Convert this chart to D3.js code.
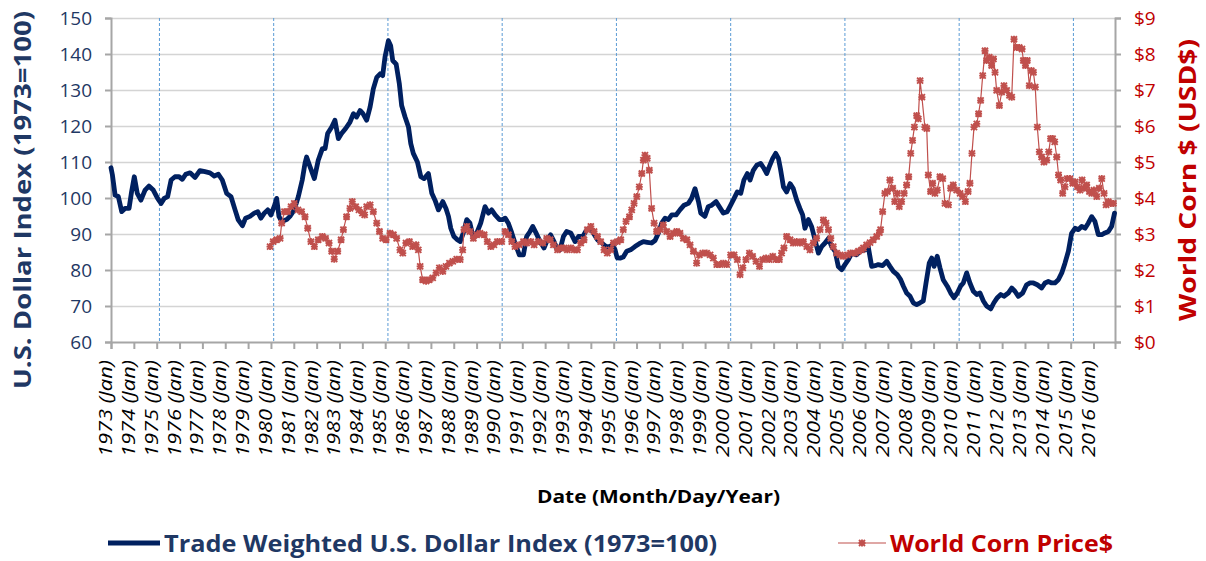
<!DOCTYPE html>
<html>
<head>
  <meta charset="utf-8">
  <title></title>
  <style>
    body { margin: 0; background: #fff; }
    svg { display: block; }
    text { font-family: "Open Sans", "DejaVu Sans", sans-serif; }
    .grid line { stroke: #d4d4d4; stroke-width: 1.5px; }
    .grid path { display: none; }
    .axis path, .axis line { stroke: #a6a6a6; stroke-width: 2px; }
  </style>
</head>
<body>
<svg width="1206" height="561"></svg>
<script src="https://cdnjs.cloudflare.com/ajax/libs/d3/7.8.5/d3.min.js"></script>
<script>

// tick labels
var years = d3.range(1973, 2017);
var leftTicks = d3.range(60, 151, 10);
var rightTicks = d3.range(0, 10, 1);
var markerYears = [1975, 1980, 1985, 1990, 1995, 2000, 2005, 2010, 2015];

// [decimal year, index]
var dollarIndex = [
  [1973.0, 108.4], [1973.06, 106.5], [1973.18, 100.8], [1973.32, 100.4], [1973.47, 96.2], [1973.61, 97.1],
  [1973.79, 97.1], [1973.90, 101.7], [1974.02, 105.9], [1974.15, 101.3], [1974.31, 99.4], [1974.49, 102.2],
  [1974.66, 103.3], [1974.85, 102.2], [1975.04, 99.9], [1975.19, 98.5], [1975.33, 99.9], [1975.48, 100.4],
  [1975.63, 105.0], [1975.80, 105.9], [1975.98, 105.9], [1976.12, 105.2], [1976.27, 106.6], [1976.46, 107.0],
  [1976.68, 105.7], [1976.89, 107.6], [1977.11, 107.3], [1977.33, 107.0], [1977.52, 106.1], [1977.70, 106.6],
  [1977.87, 105.0], [1978.06, 101.3], [1978.25, 100.4], [1978.43, 96.7], [1978.57, 93.9], [1978.75, 92.3],
  [1978.89, 94.4], [1979.08, 94.9], [1979.27, 95.8], [1979.42, 96.2], [1979.56, 94.4], [1979.71, 95.8],
  [1979.86, 96.7], [1980.00, 95.3], [1980.15, 97.8], [1980.25, 99.9], [1980.35, 94.9], [1980.47, 93.5],
  [1980.69, 94.0], [1980.83, 94.9], [1981.02, 96.7], [1981.20, 100.4], [1981.37, 105.0], [1981.49, 109.6],
  [1981.56, 111.4], [1981.71, 108.7], [1981.90, 105.4], [1982.07, 110.5], [1982.25, 113.7], [1982.37, 113.7],
  [1982.48, 117.9], [1982.66, 119.7], [1982.80, 121.6], [1982.95, 116.5], [1983.09, 117.9], [1983.27, 119.3],
  [1983.46, 121.1], [1983.61, 123.4], [1983.75, 122.5], [1983.90, 124.3], [1984.02, 123.5], [1984.19, 121.6],
  [1984.34, 125.3], [1984.48, 130.3], [1984.63, 133.5], [1984.78, 134.5], [1984.89, 134.0], [1984.99, 139.1],
  [1985.14, 143.7], [1985.24, 142.3], [1985.33, 138.2], [1985.48, 137.2], [1985.62, 131.7], [1985.72, 125.7],
  [1985.87, 122.5], [1986.02, 119.7], [1986.12, 115.1], [1986.23, 112.4], [1986.41, 110.0], [1986.56, 105.9],
  [1986.70, 105.4], [1986.89, 106.8], [1987.04, 101.3], [1987.18, 99.4], [1987.33, 96.7], [1987.52, 99.0],
  [1987.66, 97.1], [1987.77, 94.9], [1987.87, 91.6], [1988.01, 89.3], [1988.16, 88.4], [1988.28, 87.9],
  [1988.42, 90.3], [1988.57, 94.0], [1988.71, 93.0], [1988.86, 88.8], [1989.01, 90.3], [1989.18, 93.0],
  [1989.37, 97.6], [1989.52, 95.8], [1989.66, 96.7], [1989.81, 95.3], [1990.00, 94.0], [1990.14, 94.0],
  [1990.25, 94.4], [1990.39, 93.0], [1990.54, 90.3], [1990.68, 87.5], [1990.87, 84.2], [1991.05, 84.2],
  [1991.19, 89.3], [1991.34, 90.7], [1991.46, 92.1], [1991.60, 90.3], [1991.78, 87.9], [1991.95, 86.1],
  [1992.10, 88.4], [1992.24, 89.8], [1992.39, 87.9], [1992.54, 85.6], [1992.65, 85.6], [1992.80, 89.3],
  [1992.94, 90.7], [1993.12, 90.3], [1993.31, 87.9], [1993.46, 89.3], [1993.65, 89.3], [1993.82, 91.2],
  [1993.97, 91.6], [1994.11, 90.3], [1994.29, 88.4], [1994.48, 87.5], [1994.67, 86.5], [1994.81, 86.5],
  [1994.96, 87.0], [1995.06, 85.6], [1995.15, 83.4], [1995.28, 83.3], [1995.42, 83.6], [1995.57, 85.2],
  [1995.74, 85.6], [1995.93, 86.5], [1996.12, 87.3], [1996.30, 87.9], [1996.47, 87.7], [1996.66, 87.5],
  [1996.81, 88.2], [1996.96, 90.3], [1997.10, 93.0], [1997.25, 94.4], [1997.39, 94.0], [1997.54, 95.3],
  [1997.73, 95.3], [1997.90, 96.7], [1998.08, 98.0], [1998.27, 98.5], [1998.41, 99.9], [1998.56, 102.6],
  [1998.71, 99.0], [1998.81, 95.8], [1998.99, 94.9], [1999.14, 97.6], [1999.29, 98.0], [1999.48, 99.0],
  [1999.62, 97.6], [1999.80, 95.8], [1999.97, 96.2], [2000.12, 98.0], [2000.27, 99.9], [2000.41, 101.7],
  [2000.56, 101.3], [2000.70, 105.0], [2000.85, 106.8], [2000.97, 105.0], [2001.11, 107.7], [2001.26, 109.1],
  [2001.43, 109.6], [2001.58, 108.2], [2001.70, 106.8], [2001.81, 108.7], [2001.96, 111.0], [2002.09, 112.4],
  [2002.21, 111.0], [2002.31, 107.7], [2002.43, 103.1], [2002.57, 101.7], [2002.72, 104.0], [2002.86, 102.6],
  [2003.01, 99.4], [2003.15, 97.1], [2003.27, 95.3], [2003.37, 91.6], [2003.52, 94.0], [2003.66, 92.1],
  [2003.81, 88.4], [2003.96, 84.7], [2004.10, 86.5], [2004.25, 87.5], [2004.40, 88.8], [2004.54, 86.5],
  [2004.69, 85.2], [2004.83, 81.0], [2004.98, 80.1], [2005.12, 81.5], [2005.27, 82.9], [2005.42, 84.7],
  [2005.63, 84.2], [2005.78, 85.2], [2006.00, 85.6], [2006.14, 86.5], [2006.29, 81.0], [2006.44, 81.2],
  [2006.58, 81.5], [2006.77, 81.2], [2006.95, 82.4], [2007.09, 81.0], [2007.24, 79.6], [2007.41, 78.7],
  [2007.56, 77.3], [2007.68, 75.5], [2007.82, 73.6], [2007.97, 72.7], [2008.11, 70.9], [2008.26, 70.4],
  [2008.41, 70.9], [2008.55, 71.4], [2008.67, 76.4], [2008.81, 81.9], [2008.92, 83.3], [2009.02, 81.0],
  [2009.16, 83.8], [2009.28, 80.6], [2009.42, 77.3], [2009.60, 75.5], [2009.75, 73.6], [2009.89, 72.3],
  [2010.04, 73.6], [2010.18, 75.5], [2010.30, 76.4], [2010.45, 79.2], [2010.59, 76.4], [2010.74, 74.1],
  [2010.89, 73.2], [2011.03, 73.6], [2011.18, 71.4], [2011.32, 70.0], [2011.50, 69.2], [2011.64, 70.9],
  [2011.79, 72.3], [2011.94, 73.2], [2012.08, 72.7], [2012.27, 73.6], [2012.42, 75.0], [2012.56, 74.1],
  [2012.71, 72.7], [2012.90, 73.6], [2013.07, 75.9], [2013.22, 76.4], [2013.37, 76.4], [2013.54, 75.9],
  [2013.73, 75.0], [2013.88, 76.4], [2014.02, 76.8], [2014.17, 76.4], [2014.31, 76.4], [2014.46, 77.3],
  [2014.61, 79.2], [2014.75, 81.9], [2014.90, 85.2], [2015.04, 90.2], [2015.19, 91.6], [2015.34, 91.2],
  [2015.48, 92.1], [2015.63, 91.6], [2015.77, 93.0], [2015.92, 94.8], [2016.06, 93.5], [2016.21, 89.8],
  [2016.36, 89.8], [2016.50, 90.3], [2016.65, 90.7], [2016.79, 92.1], [2016.92, 95.8]
];

// [decimal year, USD]
var cornPrice = [
  [1979.96, 2.65], [1980.10, 2.79], [1980.25, 2.84], [1980.40, 2.88], [1980.47, 3.30], [1980.59, 3.62],
  [1980.73, 3.62], [1980.88, 3.76], [1981.02, 3.85], [1981.18, 3.67], [1981.34, 3.62], [1981.49, 3.48],
  [1981.61, 3.16], [1981.75, 2.79], [1981.90, 2.65], [1982.07, 2.84], [1982.25, 2.93], [1982.39, 2.88],
  [1982.54, 2.75], [1982.66, 2.52], [1982.77, 2.30], [1982.92, 2.52], [1983.07, 2.84], [1983.17, 3.12],
  [1983.31, 3.48], [1983.46, 3.71], [1983.56, 3.90], [1983.71, 3.76], [1983.85, 3.67], [1984.00, 3.58],
  [1984.10, 3.53], [1984.19, 3.76], [1984.34, 3.81], [1984.48, 3.62], [1984.63, 3.30], [1984.75, 3.07],
  [1984.89, 2.88], [1985.04, 2.84], [1985.21, 3.02], [1985.36, 2.98], [1985.50, 2.88], [1985.65, 2.56],
  [1985.77, 2.47], [1985.91, 2.75], [1986.06, 2.79], [1986.20, 2.65], [1986.35, 2.70], [1986.45, 2.56],
  [1986.53, 2.10], [1986.64, 1.73], [1986.79, 1.69], [1986.93, 1.73], [1987.08, 1.78], [1987.23, 1.92],
  [1987.37, 2.06], [1987.52, 1.96], [1987.66, 2.10], [1987.81, 2.19], [1987.96, 2.24], [1988.13, 2.30],
  [1988.28, 2.29], [1988.39, 2.56], [1988.45, 3.12], [1988.57, 3.21], [1988.71, 3.07], [1988.86, 2.88],
  [1989.01, 2.98], [1989.15, 3.02], [1989.33, 2.98], [1989.47, 2.79], [1989.62, 2.65], [1989.76, 2.70],
  [1989.91, 2.79], [1990.10, 2.79], [1990.25, 3.07], [1990.39, 2.98], [1990.54, 2.79], [1990.68, 2.65],
  [1990.87, 2.70], [1991.05, 2.79], [1991.19, 2.75], [1991.37, 2.79], [1991.52, 2.70], [1991.70, 2.79],
  [1991.90, 2.75], [1992.07, 2.88], [1992.22, 2.84], [1992.36, 2.70], [1992.54, 2.56], [1992.68, 2.61],
  [1992.83, 2.61], [1992.97, 2.56], [1993.12, 2.61], [1993.27, 2.56], [1993.41, 2.56], [1993.56, 2.75],
  [1993.70, 2.84], [1993.85, 3.12], [1994.00, 3.21], [1994.14, 3.07], [1994.29, 2.93], [1994.43, 2.79],
  [1994.58, 2.56], [1994.72, 2.47], [1994.87, 2.56], [1994.99, 2.75], [1995.16, 2.79], [1995.31, 2.84],
  [1995.42, 3.12], [1995.54, 3.35], [1995.69, 3.48], [1995.79, 3.67], [1995.89, 3.85], [1996.01, 4.04],
  [1996.12, 4.31], [1996.23, 4.68], [1996.30, 5.05], [1996.37, 5.19], [1996.47, 5.10], [1996.56, 4.77],
  [1996.66, 3.71], [1996.77, 3.30], [1996.88, 3.07], [1997.03, 3.12], [1997.17, 3.25], [1997.32, 3.07],
  [1997.47, 2.93], [1997.61, 3.02], [1997.76, 3.07], [1997.90, 3.02], [1998.05, 2.88], [1998.20, 2.84],
  [1998.34, 2.70], [1998.49, 2.52], [1998.63, 2.19], [1998.75, 2.42], [1998.90, 2.47], [1999.07, 2.47],
  [1999.22, 2.42], [1999.36, 2.33], [1999.51, 2.15], [1999.65, 2.15], [1999.80, 2.19], [1999.95, 2.15],
  [2000.12, 2.42], [2000.27, 2.42], [2000.41, 2.29], [2000.53, 1.87], [2000.65, 2.06], [2000.79, 2.29],
  [2000.94, 2.47], [2001.08, 2.38], [2001.23, 2.24], [2001.38, 2.10], [2001.52, 2.29], [2001.67, 2.33],
  [2001.81, 2.29], [2001.96, 2.38], [2002.10, 2.29], [2002.25, 2.29], [2002.35, 2.47], [2002.45, 2.61],
  [2002.57, 2.93], [2002.72, 2.84], [2002.86, 2.75], [2003.01, 2.79], [2003.15, 2.75], [2003.30, 2.79],
  [2003.45, 2.65], [2003.59, 2.56], [2003.74, 2.75], [2003.88, 2.88], [2004.03, 3.12], [2004.18, 3.39],
  [2004.29, 3.30], [2004.40, 3.12], [2004.50, 2.88], [2004.61, 2.65], [2004.76, 2.47], [2004.91, 2.42],
  [2005.05, 2.38], [2005.23, 2.42], [2005.37, 2.47], [2005.56, 2.47], [2005.71, 2.52], [2005.85, 2.56],
  [2005.93, 2.61], [2006.07, 2.70], [2006.22, 2.76], [2006.36, 2.84], [2006.51, 2.93], [2006.63, 3.04],
  [2006.68, 3.12], [2006.77, 3.62], [2006.87, 4.13], [2006.98, 4.18], [2007.09, 4.50], [2007.21, 4.27],
  [2007.30, 3.90], [2007.41, 4.13], [2007.50, 3.76], [2007.60, 3.90], [2007.71, 4.13], [2007.82, 4.36],
  [2007.91, 4.59], [2008.00, 5.24], [2008.08, 5.60], [2008.16, 5.97], [2008.26, 6.29], [2008.33, 6.20],
  [2008.41, 7.26], [2008.49, 6.80], [2008.62, 5.97], [2008.70, 5.93], [2008.77, 4.64], [2008.87, 4.18],
  [2008.96, 4.41], [2009.06, 4.13], [2009.16, 4.22], [2009.28, 4.59], [2009.40, 4.54], [2009.50, 3.85],
  [2009.65, 3.81], [2009.75, 4.27], [2009.86, 4.36], [2010.01, 4.22], [2010.16, 4.13], [2010.27, 4.04],
  [2010.39, 3.90], [2010.51, 4.18], [2010.59, 4.41], [2010.68, 5.24], [2010.77, 5.97], [2010.89, 6.06],
  [2010.97, 6.34], [2011.06, 6.71], [2011.15, 7.40], [2011.25, 8.09], [2011.32, 7.82], [2011.44, 7.91],
  [2011.54, 7.68], [2011.62, 7.86], [2011.69, 7.49], [2011.76, 6.99], [2011.88, 6.57], [2011.98, 6.94],
  [2012.08, 7.12], [2012.20, 6.99], [2012.32, 6.85], [2012.42, 6.80], [2012.52, 8.41], [2012.64, 8.18],
  [2012.75, 8.18], [2012.87, 8.14], [2012.93, 7.82], [2013.02, 7.68], [2013.10, 7.82], [2013.19, 7.12],
  [2013.28, 7.54], [2013.37, 7.49], [2013.45, 7.08], [2013.54, 5.97], [2013.63, 5.28], [2013.73, 5.14],
  [2013.83, 5.00], [2013.95, 5.05], [2014.04, 5.28], [2014.12, 5.65], [2014.21, 5.65], [2014.30, 5.56],
  [2014.39, 5.14], [2014.47, 4.64], [2014.56, 4.50], [2014.65, 4.13], [2014.75, 4.31], [2014.85, 4.54],
  [2014.97, 4.54], [2015.09, 4.41], [2015.19, 4.45], [2015.29, 4.31], [2015.41, 4.22], [2015.50, 4.50],
  [2015.58, 4.27], [2015.70, 4.36], [2015.82, 4.18], [2015.92, 4.13], [2016.02, 4.22], [2016.14, 4.04],
  [2016.25, 4.27], [2016.36, 4.54], [2016.46, 4.13], [2016.55, 3.81], [2016.65, 3.90], [2016.75, 3.85],
  [2016.87, 3.85]
];

var svg = d3.select("svg");
var navy = "#002060", titleNavy = "#1f3864", red = "#c0504d", darkRed = "#c00000";

var margin = {top: 18, right: 91, bottom: 219, left: 111};
var width = 1206 - margin.left - margin.right,
    height = 561 - margin.top - margin.bottom;

var x = d3.scaleLinear().domain([1973, 2016.94]).range([0, width]);
var y = d3.scaleLinear().domain([60, 150]).range([height, 0]);
var y2 = d3.scaleLinear().domain([0, 9]).range([height, 0]);

var g = svg.append("g").attr("transform", "translate(" + margin.left + "," + margin.top + ")");

// horizontal grid
g.append("g").attr("class", "grid")
  .call(d3.axisLeft(y).tickValues(leftTicks.slice(1)).tickSize(-width).tickFormat(""));

// dashed year markers
g.append("g").selectAll("line")
  .data(markerYears)
  .enter().append("line")
  .attr("x1", function(d) { return x(d + 0.12); })
  .attr("x2", function(d) { return x(d + 0.12); })
  .attr("y1", 0).attr("y2", height)
  .attr("stroke", "#5b9bd5")
  .attr("stroke-width", 1)
  .attr("stroke-dasharray", "3,2");

// axes
var left = g.append("g").attr("class", "axis")
  .call(d3.axisLeft(y).tickValues(leftTicks).tickSize(6).tickPadding(13));
left.selectAll("text").attr("fill", titleNavy).style("font-size", "19px");

var right = g.append("g").attr("class", "axis")
  .attr("transform", "translate(" + width + ",0)")
  .call(d3.axisRight(y2).tickValues(rightTicks).tickSize(6).tickPadding(13)
    .tickFormat(function(d) { return "$" + d; }));
right.selectAll("text").attr("fill", darkRed).style("font-size", "19px");

var bottom = g.append("g").attr("class", "axis")
  .attr("transform", "translate(0," + height + ")")
  .call(d3.axisBottom(x).tickValues(years).tickSize(7).tickFormat(""));

// rotated year labels
g.append("g").selectAll("text")
  .data(years)
  .enter().append("text")
  .attr("transform", function(d) { return "translate(" + (x(d) + 1) + "," + (height + 18) + ") rotate(-90)"; })
  .attr("text-anchor", "end")
  .style("font-size", "19px")
  .style("font-style", "italic")
  .attr("textLength", 97).attr("lengthAdjust", "spacingAndGlyphs")
  .attr("fill", "#000")
  .text(function(d) { return d + " (Jan)"; });

// dollar index line
var line = d3.line()
  .x(function(d) { return x(d[0]); })
  .y(function(d) { return y(d[1]); });

g.append("path")
  .datum(dollarIndex)
  .attr("fill", "none")
  .attr("stroke", navy)
  .attr("stroke-width", 4.8)
  .attr("stroke-linejoin", "round")
  .attr("stroke-linecap", "round")
  .attr("d", line);

// corn line with star markers
var line2 = d3.line()
  .x(function(d) { return x(d[0]); })
  .y(function(d) { return y2(d[1]); });

g.append("path")
  .datum(cornPrice)
  .attr("fill", "none")
  .attr("stroke", red)
  .attr("stroke-width", 1.2)
  .attr("d", line2);

var star = "M-3,-3L3,3M-3,3L3,-3M0,-3.5L0,3.5M-3.5,0L3.5,0";

g.append("g").selectAll("path")
  .data(cornPrice)
  .enter().append("path")
  .attr("transform", function(d) { return "translate(" + x(d[0]) + "," + y2(d[1]) + ")"; })
  .attr("d", star)
  .attr("stroke", red)
  .attr("stroke-width", 1.9)
  .attr("fill", "none");

// axis titles
svg.append("text")
  .attr("transform", "translate(31,200) rotate(-90)")
  .attr("text-anchor", "middle")
  .attr("fill", titleNavy)
  .style("font-size", "23px").style("font-weight", "bold")
  .attr("textLength", 378).attr("lengthAdjust", "spacingAndGlyphs")
  .text("U.S. Dollar Index (1973=100)");

svg.append("text")
  .attr("transform", "translate(1196,180) rotate(-90)")
  .attr("text-anchor", "middle")
  .attr("fill", darkRed)
  .style("font-size", "24px").style("font-weight", "bold")
  .attr("textLength", 282).attr("lengthAdjust", "spacingAndGlyphs")
  .text("World Corn $ (USD$)");

svg.append("text")
  .attr("x", 537).attr("y", 503)
  .attr("fill", "#000")
  .style("font-size", "18px").style("font-weight", "bold")
  .attr("textLength", 243).attr("lengthAdjust", "spacingAndGlyphs")
  .text("Date (Month/Day/Year)");

// legend
var legend = svg.append("g");
legend.append("line")
  .attr("x1", 108).attr("x2", 160).attr("y1", 543).attr("y2", 543)
  .attr("stroke", navy).attr("stroke-width", 4.8);
legend.append("text")
  .attr("x", 164).attr("y", 552)
  .attr("fill", titleNavy)
  .style("font-size", "23px").style("font-weight", "bold")
  .attr("textLength", 553).attr("lengthAdjust", "spacingAndGlyphs")
  .text("Trade Weighted U.S. Dollar Index (1973=100)");

legend.append("line")
  .attr("x1", 838).attr("x2", 886).attr("y1", 543).attr("y2", 543)
  .attr("stroke", red).attr("stroke-width", 1.2);
legend.append("path")
  .attr("transform", "translate(862,543)")
  .attr("d", star)
  .attr("stroke", red).attr("stroke-width", 1.9).attr("fill", "none");
legend.append("text")
  .attr("x", 890).attr("y", 552)
  .attr("fill", darkRed)
  .style("font-size", "23px").style("font-weight", "bold")
  .attr("textLength", 223).attr("lengthAdjust", "spacingAndGlyphs")
  .text("World Corn Price$");

</script>
</body>
</html>
